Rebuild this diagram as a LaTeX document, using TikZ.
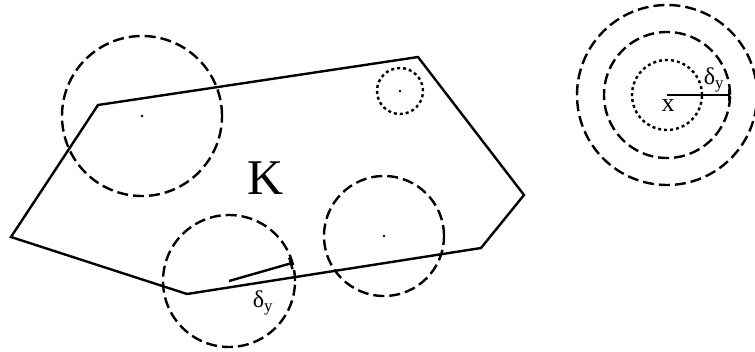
\documentclass[tikz,border=0pt]{standalone}
\usepackage{fontspec}
\setmainfont{Liberation Serif}
\usetikzlibrary{arrows.meta}

\begin{document}
\begin{tikzpicture}[x=1pt,y=-1pt,
  boundary/.style={line width=2.4pt, line join=miter},
  ball/.style={line width=2.4pt, dash pattern=on 11pt off 5pt},
  smallball/.style={line width=2.4pt, dash pattern=on 3pt off 3pt},
  radiusline/.style={line width=2.4pt, -{Bar[width=12pt]}},
  dlabel/.style={font=\fontsize{24}{24}\selectfont, inner sep=0pt}]
  \useasboundingbox (0,0) rectangle (755,351);

  % the set K
  \coordinate (k1) at (11,237);
  \coordinate (k2) at (98,105);
  \coordinate (k3) at (418,57);
  \coordinate (k4) at (524,195);
  \coordinate (k5) at (481,248);
  \coordinate (k6) at (187,294);
  \draw[boundary] (k1) -- (k2) -- (k3) -- (k4) -- (k5) -- (k6) -- cycle;
  \node[font=\fontsize{50}{50}\selectfont, inner sep=0pt] (K) at (266,178) {K};

  % balls round points of K
  \coordinate (c1) at (142,116);
  \coordinate (c2) at (400,91);
  \coordinate (c3) at (384,236);
  \coordinate (c4) at (229,281);
  \draw[ball] (c1) circle[radius=80pt];
  \draw[smallball] (c2) circle[radius=23pt];
  \draw[ball] (c3) circle[radius=60pt];
  \draw[ball] (c4) circle[radius=66pt];
  \foreach \c in {c1,c2,c3}
    \fill (\c) circle[radius=1.3pt];
  \coordinate (r4) at (292,263);
  \draw[radiusline] (c4) -- (r4);
  \node[dlabel] (d4) at (263,303) {δ\textsubscript{y}};

  % nested balls round x
  \coordinate (x) at (667,95);
  \draw[ball] (x) circle[radius=90pt];
  \draw[ball] (x) circle[radius=63pt];
  \draw[smallball] (x) circle[radius=35pt];
  \coordinate (rx) at (730,95);
  \draw[radiusline] (x) -- (rx);
  \node[dlabel] (dx) at (714,80) {δ\textsubscript{y}};
  \node[font=\fontsize{26}{26}\selectfont, inner sep=0pt] (xl) at (668,106) {x};
\end{tikzpicture}
\end{document}
